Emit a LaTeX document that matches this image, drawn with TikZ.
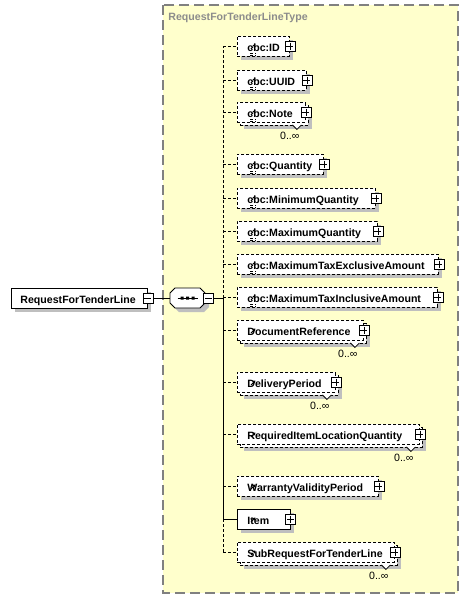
\documentclass[tikz,border=0pt]{standalone}
\usepackage{fontspec}
\setmainfont{Liberation Sans}
\usetikzlibrary{arrows.meta,shadows}
\definecolor{typefill}{RGB}{255,255,204}
\newcommand\elemfont{\fontsize{10.6pt}{12.7pt}\selectfont}
\newcommand\simplemark{\draw[line width=0.8pt,shift={(path picture bounding box.north west)}] (3,2)--(8.5,2) (3,4)--(8.5,4) (3,6)--(7,6);}
\newcommand\refmark{\draw[line width=1pt,-{Triangle[length=2.6pt,width=3.2pt]},shift={(path picture bounding box.south west)}] (3.5,-2)--(8,-6.5);}

\begin{document}
\begin{tikzpicture}[x=1pt,y=-1pt,line width=0.9pt,font=\elemfont,
  opt/.style={dash pattern=on 3pt off 2pt},
  elem/.style={draw,fill=white,anchor=west,align=left,inner xsep=10pt,inner ysep=0pt,
    minimum height=20pt,text height=11pt,text depth=1pt,font=\elemfont\bfseries,
    general shadow={shadow xshift=4pt,shadow yshift=-4pt,fill=black!25}},
  cbc/.style={path picture={\simplemark\refmark}},
  cac/.style={path picture={\refmark}},
  multi/.style={general shadow={shadow xshift=7pt,shadow yshift=-7pt,fill=black!25},
    general shadow={shadow xshift=3pt,shadow yshift=-3pt,fill=white,draw,opt}},
  oct/.style={insert path={++(-12.5,-10) -- ++(25,0) -- ++(5,5) -- ++(0,10) -- ++(-5,5)
    -- ++(-25,0) -- ++(-5,-5) -- ++(0,-10) -- cycle}},
  pm/.style={draw,fill=white,minimum size=10pt,inner sep=0pt,line width=0.8pt},
  plusbox/.style={pm,path picture={\draw[shift={(path picture bounding box.center)}] (-3.5,0)--(3.5,0) (0,-3.5)--(0,3.5);}},
  minusbox/.style={pm,path picture={\draw[shift={(path picture bounding box.center)}] (-3.5,0)--(3.5,0);}},
  mult/.style={anchor=east,inner sep=0pt,font=\elemfont}]
\useasboundingbox (0,0) rectangle (469,598);
\draw[black!50,line width=1.2pt,dash pattern=on 10pt off 5pt,fill=typefill] (163,5) rectangle (458,593);
\node[anchor=west,inner sep=0pt,text=black!45,font=\elemfont\bfseries] (typename) at (168,18) {RequestForTenderLineType};

% root element and sequence
\node[elem,text width=118pt,inner xsep=9pt] (root) at (11,298) {RequestForTenderLine};
\node[minusbox] (root-m) at (root.east) {};
\node[minimum width=35pt,minimum height=20pt,inner sep=0pt] (seq) at (187.5,298) {};
\fill[black!25] ([shift={(4pt,-4pt)}]seq.center) [oct];
\draw[fill=white] (seq.center) [oct];
\draw (seq.center) ++(-10,0) -- ++(20,0);
\fill (seq.center) ++(-7,-1.5) rectangle ++(3,3) ++(2.5,-3) rectangle ++(3,3) ++(2.5,-3) rectangle ++(3,3);
\node[minusbox] (seq-m) at ([xshift=3pt]seq.east) {};
\coordinate (spine) at (223,298);

% children
\node[elem,opt,cbc,text width=32pt] (id) at (237,46) {cbc:ID};
\node[elem,opt,cbc,text width=49pt] (uuid) at (237,80) {cbc:UUID};
\node[elem,opt,cbc,multi,text width=48pt] (note) at (237,112) {cbc:Note};
\node[elem,opt,cbc,text width=66pt] (quantity) at (237,164) {cbc:Quantity};
\node[elem,opt,cbc,text width=118pt] (minqty) at (237,198) {cbc:MinimumQuantity};
\node[elem,opt,cbc,text width=120pt] (maxqty) at (237,231) {cbc:MaximumQuantity};
\node[elem,opt,cbc,text width=181pt] (maxexcl) at (237,264) {cbc:MaximumTaxExclusiveAmount};
\node[elem,opt,cbc,text width=180pt] (maxincl) at (237,297) {cbc:MaximumTaxInclusiveAmount};
\node[elem,opt,cac,multi,text width=106pt] (docref) at (237,330) {DocumentReference};
\node[elem,opt,cac,multi,text width=78pt] (delivery) at (237,382) {DeliveryPeriod};
\node[elem,opt,cac,multi,text width=162pt] (reqloc) at (237,434) {RequiredItemLocationQuantity};
\node[elem,opt,cac,text width=121pt] (warranty) at (237,486) {WarrantyValidityPeriod};
\node[elem,cac,text width=32.5pt] (item) at (237,519) {Item};
\node[elem,opt,cac,multi,text width=137pt] (subreq) at (237,552) {SubRequestForTenderLine};

\foreach \n in {id,uuid,note,quantity,minqty,maxqty,maxexcl,maxincl,docref,delivery,reqloc,warranty,item,subreq}
  \node[plusbox] (\n-p) at (\n.east) {};
\foreach \n in {note,docref,delivery,reqloc,subreq}{
  \draw[line width=0.8pt,fill=white] ([shift={(-13.5pt,-2.5pt)}]\n.south east) -- ++(4.5pt,-4.5pt) -- ++(4.5pt,4.5pt);
  \node[mult] (\n-n) at ([shift={(-6pt,-13pt)}]\n.south east) {0..∞};
}

% connectors
\draw (root-m) -- (seq);
\draw (seq-m) -- (spine);
\draw[opt] (spine) -- (spine |- id.west);
\draw (spine) -- (spine |- item.west);
\draw[opt] (spine |- item.west) -- (spine |- subreq.west);
\foreach \n in {id,uuid,note,quantity,minqty,maxqty,maxexcl,maxincl,docref,delivery,reqloc,warranty,subreq}
  \draw[opt] (spine |- \n.west) -- (\n.west);
\draw (spine |- item.west) -- (item.west);
\end{tikzpicture}
\end{document}
